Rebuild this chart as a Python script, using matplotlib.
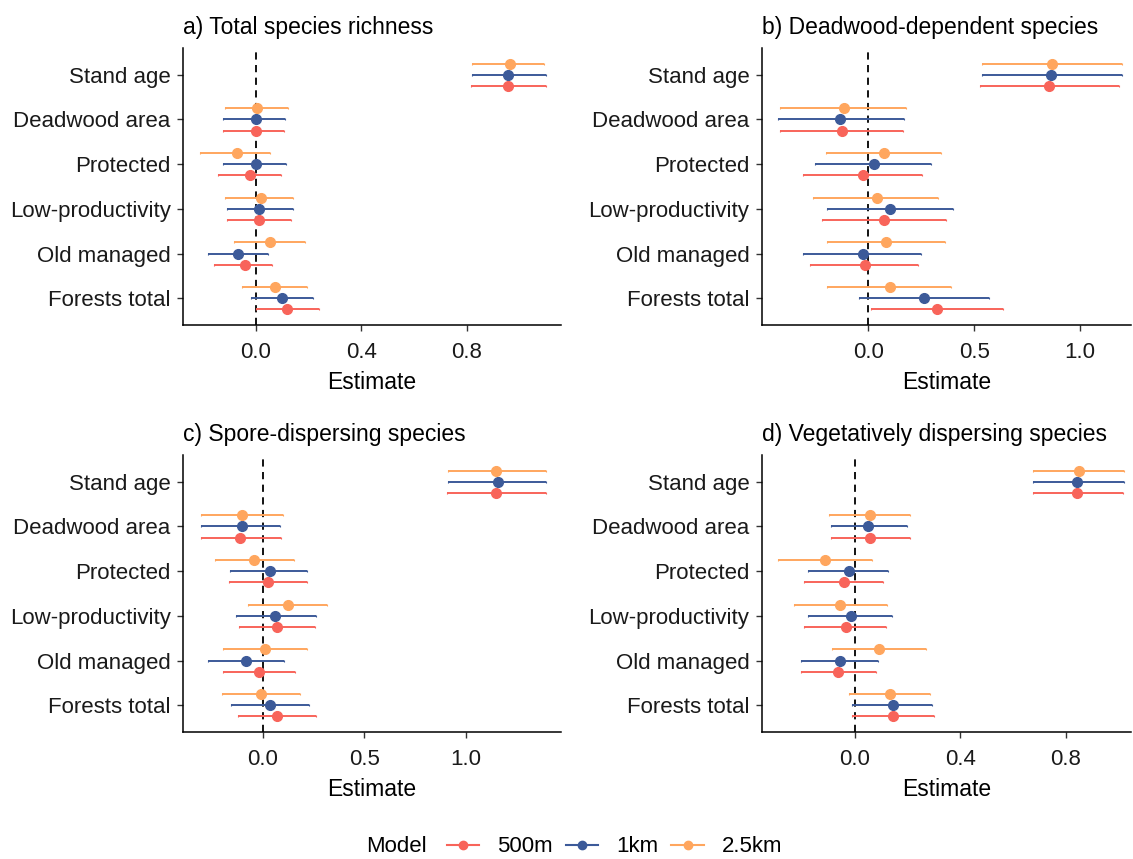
import matplotlib
matplotlib.use("Agg")
import matplotlib.pyplot as plt
from matplotlib.lines import Line2D

plt.rcParams['font.family'] = ['Liberation Sans', 'DejaVu Sans']

# predictor names, top to bottom
predictors = ['Stand age', 'Deadwood area', 'Protected', 'Low-productivity',
              'Old managed', 'Forests total']
models = ['500m', '1km', '2.5km']
colors = {'500m': '#F8645A', '1km': '#3C5A99', '2.5km': '#FFA65E'}

# a) Total species richness: estimate, lower, upper per model
a_500 = [(0.957, 0.815, 1.098), (-0.001, -0.124, 0.107), (-0.023, -0.143, 0.094),
         (0.013, -0.109, 0.133), (-0.040, -0.158, 0.061), (0.119, 0.000, 0.241)]
a_1k = [(0.957, 0.820, 1.100), (-0.001, -0.124, 0.112), (-0.001, -0.124, 0.114),
        (0.013, -0.111, 0.142), (-0.067, -0.183, 0.047), (0.099, -0.018, 0.215)]
a_25k = [(0.963, 0.820, 1.093), (0.006, -0.118, 0.120), (-0.073, -0.210, 0.053),
         (0.019, -0.118, 0.142), (0.052, -0.083, 0.188), (0.072, -0.051, 0.193)]

# b) Deadwood-dependent species
b_500 = [(0.855, 0.528, 1.186), (-0.123, -0.417, 0.162), (-0.024, -0.310, 0.254),
         (0.074, -0.217, 0.369), (-0.017, -0.277, 0.236), (0.324, 0.011, 0.635)]
b_1k = [(0.863, 0.535, 1.197), (-0.132, -0.425, 0.169), (0.025, -0.252, 0.294),
        (0.102, -0.194, 0.402), (-0.024, -0.309, 0.249), (0.265, -0.044, 0.569)]
b_25k = [(0.869, 0.535, 1.197), (-0.115, -0.417, 0.178), (0.074, -0.200, 0.342),
         (0.041, -0.260, 0.329), (0.083, -0.194, 0.361), (0.101, -0.194, 0.392)]

# c) Spore-dispersing species
c_500 = [(1.149, 0.906, 1.394), (-0.113, -0.305, 0.089), (0.025, -0.167, 0.218),
         (0.069, -0.115, 0.258), (-0.018, -0.194, 0.158), (0.069, -0.123, 0.261)]
c_1k = [(1.159, 0.914, 1.394), (-0.103, -0.305, 0.085), (0.034, -0.161, 0.218),
        (0.061, -0.133, 0.261), (-0.085, -0.271, 0.105), (0.034, -0.159, 0.227)]
c_25k = [(1.149, 0.914, 1.394), (-0.103, -0.305, 0.099), (-0.041, -0.235, 0.154),
         (0.122, -0.074, 0.314), (0.010, -0.194, 0.218), (-0.011, -0.202, 0.182)]

# d) Vegetatively dispersing species
d_500 = [(0.843, 0.676, 1.017), (0.059, -0.090, 0.209), (-0.040, -0.191, 0.107),
         (-0.034, -0.191, 0.120), (-0.062, -0.204, 0.082), (0.146, -0.011, 0.300)]
d_1k = [(0.843, 0.674, 1.020), (0.050, -0.090, 0.198), (-0.021, -0.177, 0.127),
        (-0.015, -0.177, 0.141), (-0.054, -0.203, 0.087), (0.146, -0.011, 0.294)]
d_25k = [(0.849, 0.674, 1.020), (0.059, -0.097, 0.209), (-0.114, -0.289, 0.067),
         (-0.054, -0.231, 0.121), (0.092, -0.085, 0.268), (0.132, -0.023, 0.285)]

panels = [
    ('a) Total species richness', {'500m': a_500, '1km': a_1k, '2.5km': a_25k},
     (-0.276, 1.156), [0, 0.4, 0.8], ['0.0', '0.4', '0.8']),
    ('b) Deadwood-dependent species', {'500m': b_500, '1km': b_1k, '2.5km': b_25k},
     (-0.502, 1.241), [0, 0.5, 1.0], ['0.0', '0.5', '1.0']),
    ('c) Spore-dispersing species', {'500m': c_500, '1km': c_1k, '2.5km': c_25k},
     (-0.393, 1.469), [0, 0.5, 1.0], ['0.0', '0.5', '1.0']),
    ('d) Vegetatively dispersing species', {'500m': d_500, '1km': d_1k, '2.5km': d_25k},
     (-0.351, 1.046), [0, 0.4, 0.8], ['0.0', '0.4', '0.8']),
]

W, H = 1133, 859
fig = plt.figure(figsize=(W / 100, H / 100), dpi=100)

# axes boxes in pixels: left, top, right, bottom
boxes = [(183, 48, 561, 325), (762, 48, 1131, 325),
         (183, 455, 561, 732), (762, 455, 1131, 732)]
offsets = {'500m': -0.25, '1km': 0.0, '2.5km': 0.25}
ypos = [len(predictors) - i for i in range(len(predictors))]

for (title, data, xlim, ticks, ticklabels), (l, t, r, b) in zip(panels, boxes):
    ax = fig.add_axes([l / W, (H - b) / H, (r - l) / W, (b - t) / H])
    ax.axvline(0, color='black', linestyle=(0, (4, 3)), linewidth=1.3, zorder=1)
    for m in models:
        est = [v[0] for v in data[m]]
        lo = [v[1] for v in data[m]]
        hi = [v[2] for v in data[m]]
        yy = [y + offsets[m] for y in ypos]
        ax.errorbar(est, yy, xerr=[[e - a for e, a in zip(est, lo)],
                                   [c - e for e, c in zip(est, hi)]],
                    fmt='o', color=colors[m], ecolor=colors[m], markersize=7,
                    elinewidth=1.4, capsize=1, capthick=0.8, zorder=3)
    ax.set_xlim(*xlim)
    ax.set_ylim(0.4, len(predictors) + 0.6)
    ax.set_yticks(ypos)
    ax.set_yticklabels(predictors, fontsize=16, color='#1a1a1a')
    ax.set_xticks(ticks)
    ax.set_xticklabels(ticklabels, fontsize=16, color='#1a1a1a')
    ax.set_xlabel('Estimate', fontsize=16.5, color='black', labelpad=6)
    ax.set_title(title, fontsize=16.5, loc='left', pad=10, x=0.0)
    for s in ['top', 'right']:
        ax.spines[s].set_visible(False)
    for s in ['left', 'bottom']:
        ax.spines[s].set_linewidth(1.1)
    ax.tick_params(axis='y', length=4, width=1, pad=5, color='#333333')
    ax.tick_params(axis='x', length=4, width=1, pad=8, color='#333333')

handles = [Line2D([], [], color=colors[m], marker='o', markersize=6,
                  linewidth=1.5) for m in models]
fig.text(366 / W, 1 - 847 / H, 'Model', fontsize=16, va='center', ha='left')
fig.legend(handles, models, loc='center left', bbox_to_anchor=(427 / W, 1 - 847 / H),
           ncol=3, frameon=False, fontsize=16, handlelength=1.45,
           columnspacing=0.6, handletextpad=0.8)

fig.savefig('out.png', dpi=100)
